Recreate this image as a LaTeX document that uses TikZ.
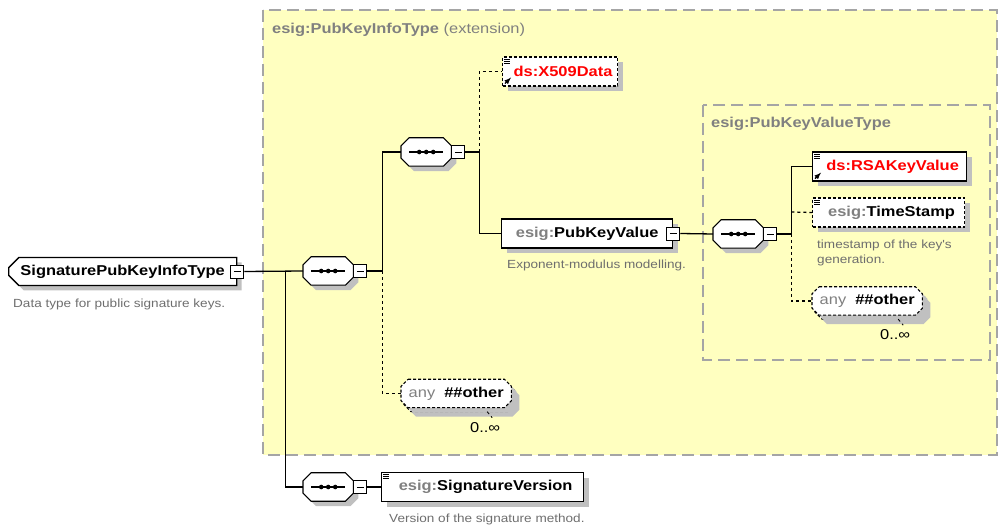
\documentclass[tikz,border=0pt]{standalone}
\usepackage{fontspec}
\setmainfont{Liberation Sans}
\newfontfamily\diagfont[FakeStretch=1.15]{Liberation Sans}
\usetikzlibrary{shapes.misc, shadows, positioning, calc}

\definecolor{boxyellow}{RGB}{255,255,192}
\definecolor{framegray}{RGB}{165,165,165}
\definecolor{shadowgray}{RGB}{192,192,192}
\definecolor{labelgray}{RGB}{128,128,128}
\definecolor{descgray}{RGB}{110,110,110}
\definecolor{refred}{RGB}{255,0,0}

\pgfdeclarelayer{frames}
\pgfdeclarelayer{back}
\pgfsetlayers{frames,back,main}

\tikzset{
  shade gray/.style={drop shadow={shadow xshift=5pt, shadow yshift=-5pt, fill=shadowgray, opacity=1}},
  elem/.style={draw, fill=white, line width=1.3pt, minimum height=29pt, inner sep=0pt, anchor=west,
    font=\diagfont\bfseries\fontsize{14.3}{16}\selectfont, shade gray},
  optelem/.style={elem, line width=1.1pt, dash pattern=on 3pt off 2pt},
  seqbox/.style={minimum width=50pt, minimum height=28pt, inner sep=0pt, anchor=west},
  minusbox/.style={draw, fill=white, line width=0.9pt, minimum size=13pt, inner sep=0pt,
    path picture={\draw[line width=0.9pt] ([xshift=3pt]path picture bounding box.west) -- ([xshift=-3pt]path picture bounding box.east);}},
  anybox/.style={minimum width=110pt, minimum height=28pt, inner sep=0pt, anchor=west,
    font=\diagfont\fontsize{14.3}{16}\selectfont},
  solidline/.style={line width=1.1pt},
  dashline/.style={line width=1.1pt, dash pattern=on 3pt off 2pt},
  desc/.style={anchor=west, inner sep=0pt, text=descgray, font=\diagfont\fontsize{11.8}{14.5}\selectfont, align=left},
  frametitle/.style={anchor=west, inner sep=0pt, text=labelgray, font=\diagfont\fontsize{14.3}{16}\selectfont},
  link/.style={line width=1.3pt},
  optlink/.style={line width=1.3pt, dash pattern=on 3pt off 3pt},
  frame/.style={draw=framegray, line width=1.4pt, dash pattern=on 12pt off 6pt}
}

% octagon outline behind a node: name, chamfer, line style
\newcommand\octo[3]{%
  \begin{pgfonlayer}{back}
  \draw[fill=white, shade gray, #3]
    ($(#1.north west)+(#2,0)$) -- ($(#1.north east)+(-#2,0)$) -- ($(#1.north east)+(0,#2)$)
    -- ($(#1.south east)+(0,-#2)$) -- ($(#1.south east)+(-#2,0)$) -- ($(#1.south west)+(#2,0)$)
    -- ($(#1.south west)+(0,-#2)$) -- ($(#1.north west)+(0,#2)$) -- cycle;
  \end{pgfonlayer}
}
% compositor mark: line with three dots
\newcommand\seqdots[1]{%
  \draw[line width=1.1pt] ($(#1.center)+(-17,0)$) -- ($(#1.center)+(17,0)$);
  \foreach \dx in {-7,0,7} \fill ($(#1.center)+(\dx,0)$) circle (2.3);
}
% documentation mark, top left of an element
\newcommand\docmark[1]{%
  \foreach \dy in {3,5,7} \draw[line width=0.8pt] ($(#1.north west)+(2,\dy)$) -- ++(6,0);
}
% reference arrow, bottom left of an element
\newcommand\refmark[1]{%
  \draw[line width=1.3pt, -latex] ($(#1.south west)+(3,-3)$) -- ++(6,-6);
}

\begin{document}
\begin{tikzpicture}[x=1pt, y=-1pt]
\useasboundingbox (0,0) rectangle (999,526);

% extension frames
\begin{pgfonlayer}{frames}
\fill[boxyellow] (263,10) rectangle (997,455);
\draw[frame] (263,10) rectangle (997,455);
\draw[frame] (703,105) rectangle (990,360);
\end{pgfonlayer}
\node[frametitle] (exttitle) at (272,30) {\bfseries esig:PubKeyInfoType\mdseries\ (extension)};
\node[frametitle] (valtitle) at (711,124) {\bfseries esig:PubKeyValueType};

% root type
\node[elem, chamfered rectangle, chamfered rectangle corners={north west, south west},
  chamfered rectangle xsep=8pt, minimum width=228pt, minimum height=28pt] (root) at (8,271.5)
  {SignaturePubKeyInfoType\hspace{4pt}};
\node[minusbox] (rootm) at (root.east) {};
\node[desc] (rootdesc) at (13,304) {Data type for public signature keys.};

% sequences
\node[seqbox] (seqa) at (303,271) {};
\octo{seqa}{8}{solidline}
\node[minusbox, anchor=west] (seqam) at (seqa.east) {};
\seqdots{seqa}
\node[seqbox] (seqb) at (401,152) {};
\octo{seqb}{8}{solidline}
\node[minusbox, anchor=west] (seqbm) at (seqb.east) {};
\seqdots{seqb}
\node[seqbox] (seqc) at (713,234) {};
\octo{seqc}{8}{solidline}
\node[minusbox, anchor=west] (seqcm) at (seqc.east) {};
\seqdots{seqc}
\node[seqbox] (seqd) at (303,487) {};
\octo{seqd}{8}{solidline}
\node[minusbox, anchor=west] (seqdm) at (seqd.east) {};
\seqdots{seqd}

% elements
\node[optelem, minimum width=115pt, text=refred] (x509) at (502,71.5) {\hspace{6pt}ds:X509Data};
\docmark{x509}
\refmark{x509}
\node[elem, minimum width=171pt] (pkv) at (501,233.5) {\textcolor{labelgray}{esig:}PubKeyValue\hspace{8pt}};
\node[minusbox] (pkvm) at (pkv.east) {};
\node[desc] (pkvdesc) at (507,265) {Exponent-modulus modelling.};

\node[elem, minimum width=154pt, text=refred] (rsa) at (812,166.5) {\hspace{6pt}ds:RSAKeyValue};
\docmark{rsa}
\refmark{rsa}
\node[optelem, minimum width=152pt] (ts) at (812,212.5) {\hspace{6pt}\textcolor{labelgray}{esig:}TimeStamp};
\docmark{ts}
\node[desc] (tsdesc) at (817,253) {timestamp of the key's\\generation.};

\node[elem, minimum width=202pt] (sv) at (381,487) {\hspace{6pt}\textcolor{labelgray}{esig:}SignatureVersion};
\docmark{sv}
\node[desc] (svdesc) at (389,519) {Version of the signature method.};

% wildcards
\node[anybox] (anyab) at (815,305) {};
\octo{anyab}{7}{dashline}
\node[anybox] (anya) at (812,301) {\textcolor{labelgray}{any}\hspace{9pt}\bfseries \#\#other};
\octo{anya}{7}{dashline}
\draw[optlink, line width=0.9pt] ($(anyab.south)+(28,0)$) -- ++(5,6);
\node[anchor=west, inner sep=0pt, font=\diagfont\fontsize{14.3}{16}\selectfont] (anyacount) at (880,335) {0..∞};

\node[anybox] (anybb) at (404,397.5) {};
\octo{anybb}{7}{dashline}
\node[anybox] (anyb) at (401,393.5) {\textcolor{labelgray}{any}\hspace{9pt}\bfseries \#\#other};
\octo{anyb}{7}{dashline}
\draw[optlink, line width=0.9pt] ($(anybb.south)+(28,0)$) -- ++(5,6);
\node[anchor=west, inner sep=0pt, font=\diagfont\fontsize{14.3}{16}\selectfont] (anybcount) at (470,428) {0..∞};

% connectors
\coordinate (ja) at ($(rootm.east)+(41,0)$);
\coordinate (jb) at ($(seqam.east)+(15,0)$);
\coordinate (jc) at ($(seqbm.east)+(14,0)$);
\coordinate (jd) at ($(seqcm.east)+(14,0)$);
\draw[link] (rootm.east) -- (seqa.west);
\draw[link] (ja) |- (seqd.west);
\draw[link] (seqam.east) -- (jb) |- (seqb.west);
\draw[optlink] (jb) |- (anyb.west);
\draw[link] (seqbm.east) -- (jc) |- (pkv.west);
\draw[optlink] (jc) |- (x509.west);
\draw[link] (pkvm.east) -- (seqc.west);
\draw[link] (seqcm.east) -- (jd) |- (rsa.west);
\draw[optlink] ($(jd)+(0,-22)$) -- (ts.west);
\draw[optlink] (jd) |- (anya.west);
\draw[link] (seqdm.east) -- (sv.west);
\end{tikzpicture}
\end{document}
